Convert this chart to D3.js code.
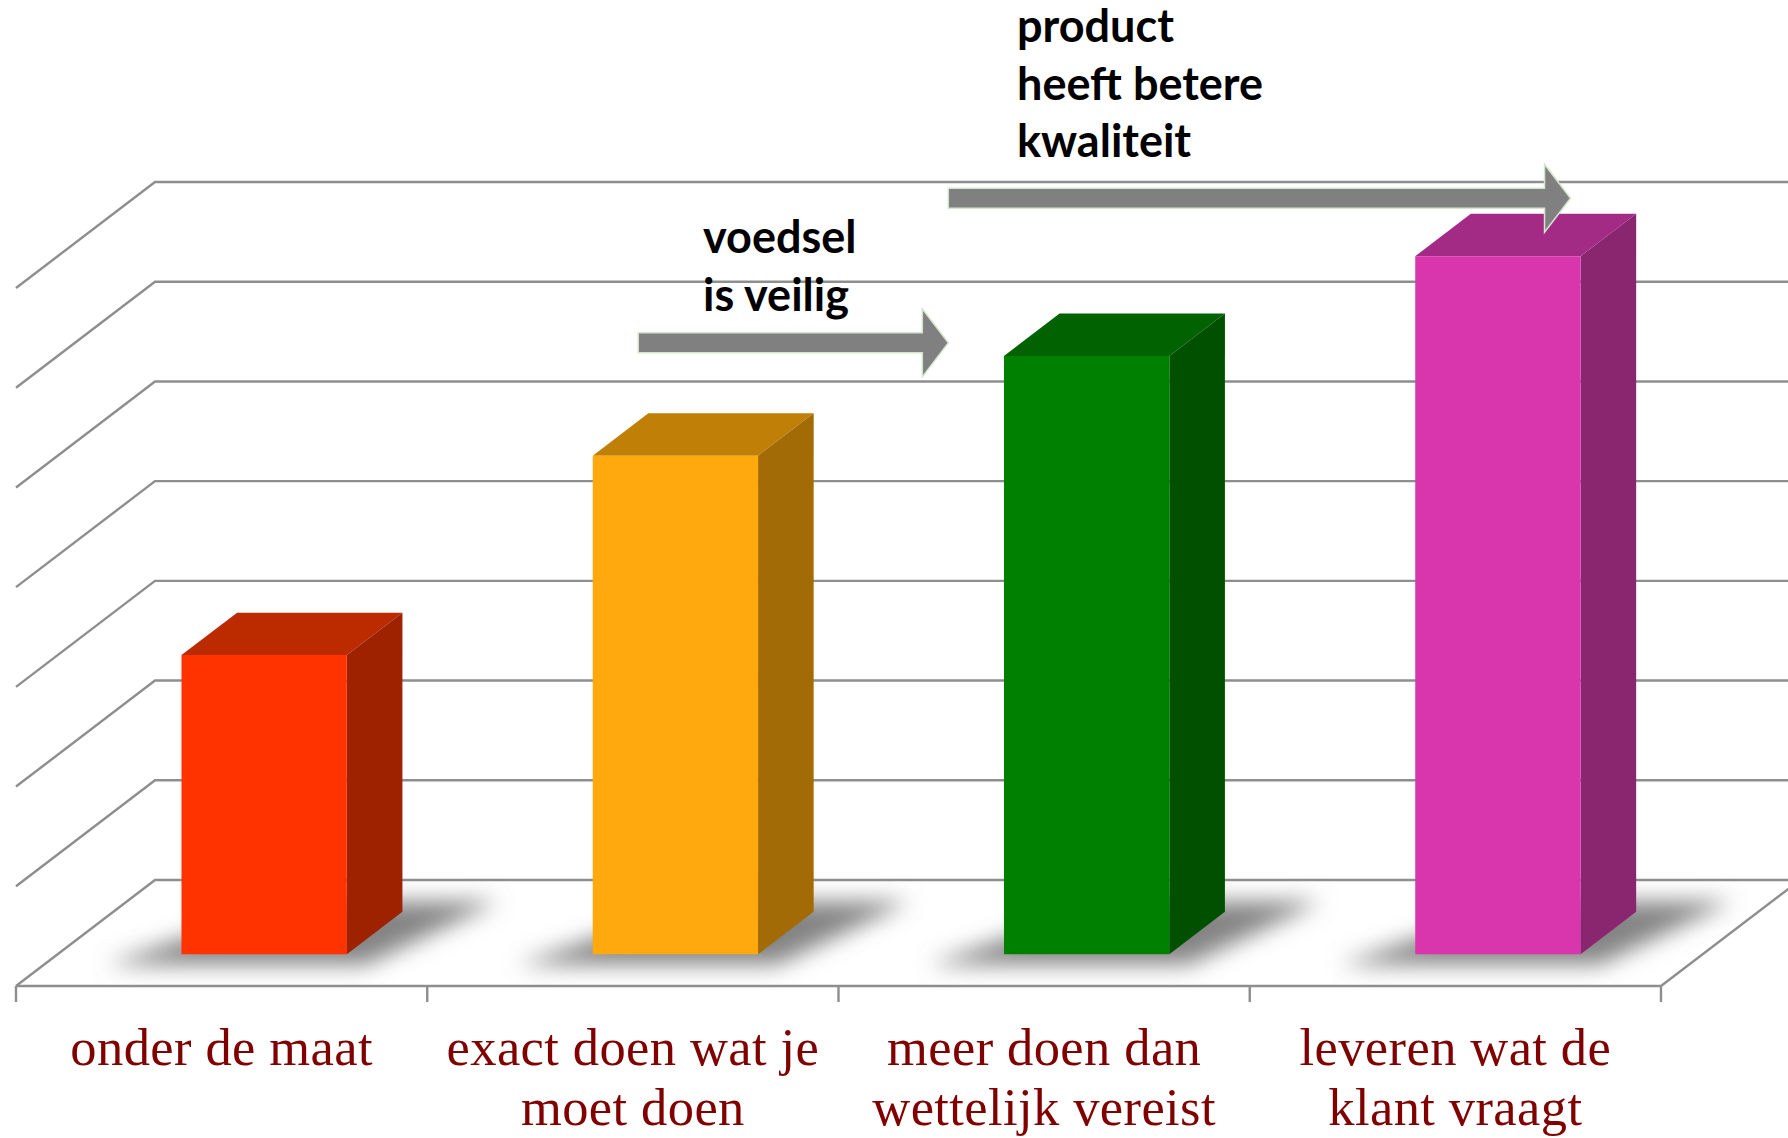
<!DOCTYPE html>
<html>
<head>
<meta charset="utf-8">
<script src="https://cdn.jsdelivr.net/npm/d3@7"></script>
<style>
  body { margin: 0; background: #fff; }
  svg { display: block; }
</style>
</head>
<body>
<div id="chart"></div>
<script>
//data
var categories = ["onder de maat", "exact doen wat je moet doen", "meer doen dan wettelijk vereist", "leveren wat de klant vraagt"];
var labelLines = [["onder de maat"], ["exact doen wat je", "moet doen"], ["meer doen dan", "wettelijk vereist"], ["leveren wat de", "klant vraagt"]];
var values = [3, 5, 6, 7];
var levels = [0, 1, 2, 3, 4, 5, 6, 7];
var frontColors = ["#ff3300", "#ffa90e", "#008000", "#d936ae"];
var sideColors = ["#9e2200", "#a36b05", "#005000", "#8a2570"];
var topColors = ["#bc2a00", "#c07f06", "#006200", "#a32a85"];

//arrows, in category widths and value levels
var arrowFrom = [1.513, 2.267];
var arrowTo = [2.267, 3.78];
var arrowLevel = [6.45, 7.9];
var noteLines = [["voedsel", "is veilig"], ["product", "heeft betere", "kwaliteit"]];

//set dimensions
var width = 1788,
    height = 1138,
    depthX = 139,
    depthY = 106,
    barDepth = 0.4,
    barFront = 0.3,
    barInset = 0.301,
    barWidth = 0.402;

var x = d3.scaleBand().domain(categories).range([16, 1661]);
var xPos = d3.scaleLinear().domain([0, 4]).range([16, 1661]);
var y = d3.scaleLinear().domain([0, 7]).range([986, 288]);

//oblique projection: z=0 is the front of the floor, z=1 the back wall
function project(px, v, z) {
  return [px + z * depthX, y(v) - z * depthY];
}

var svg = d3.select("#chart")
  .append("svg")
  .attr("width", width)
  .attr("height", height);

var defs = svg.append("defs");
defs.append("filter")
  .attr("id", "blur")
  .attr("x", "-30%").attr("y", "-60%")
  .attr("width", "160%").attr("height", "220%")
  .append("feGaussianBlur")
  .attr("stdDeviation", 11);

var line = d3.line();
var grid = svg.append("g")
  .attr("fill", "none")
  .attr("stroke", "#8e8e8e")
  .attr("stroke-width", 2.4);

//back wall and side wall
grid.selectAll(".wall")
  .data(levels)
  .enter()
  .append("path")
  .attr("class", "wall")
  .attr("d", function(d) {
    return line([project(xPos(0), d, 0), project(xPos(0), d, 1), project(xPos(4), d, 1)]);
  });

//floor front edge and right edge
grid.append("path")
  .attr("d", line([project(xPos(0), 0, 0), project(xPos(4), 0, 0), project(xPos(4), 0, 1)]));

//ticks
grid.selectAll(".tick")
  .data(d3.range(5))
  .enter()
  .append("line")
  .attr("class", "tick")
  .attr("x1", function(d) { return xPos(d); })
  .attr("x2", function(d) { return xPos(d); })
  .attr("y1", y(0))
  .attr("y2", y(0) + 16);

//bars
var bars = svg.selectAll(".bar")
  .data(categories)
  .enter()
  .append("g")
  .attr("class", "bar");

function corner(i, along, v, z) {
  return project(x(categories[i]) + (barInset + along) * x.bandwidth(), v, z);
}

bars.append("path")
  .attr("fill", "#777")
  .attr("fill-opacity", 0.9)
  .attr("filter", "url(#blur)")
  .attr("d", function(d, i) {
    return line([
      corner(i, -0.15, 0, barFront - 0.1),
      corner(i, barWidth + 0.08, 0, barFront - 0.1),
      corner(i, barWidth + 0.2, 0, barFront + barDepth + 0.1),
      corner(i, 0.1, 0, barFront + barDepth + 0.1)
    ]) + "Z";
  });

bars.append("path")
  .attr("fill", function(d, i) { return topColors[i]; })
  .attr("d", function(d, i) {
    var v = values[i];
    return line([
      corner(i, 0, v, barFront),
      corner(i, barWidth, v, barFront),
      corner(i, barWidth, v, barFront + barDepth),
      corner(i, 0, v, barFront + barDepth)
    ]) + "Z";
  });

bars.append("path")
  .attr("fill", function(d, i) { return sideColors[i]; })
  .attr("d", function(d, i) {
    var v = values[i];
    return line([
      corner(i, barWidth, 0, barFront),
      corner(i, barWidth, v, barFront),
      corner(i, barWidth, v, barFront + barDepth),
      corner(i, barWidth, 0, barFront + barDepth)
    ]) + "Z";
  });

bars.append("path")
  .attr("fill", function(d, i) { return frontColors[i]; })
  .attr("d", function(d, i) {
    var v = values[i];
    return line([
      corner(i, 0, 0, barFront),
      corner(i, barWidth, 0, barFront),
      corner(i, barWidth, v, barFront),
      corner(i, 0, v, barFront)
    ]) + "Z";
  });

//category labels
var labels = svg.selectAll(".label")
  .data(labelLines)
  .enter()
  .append("text")
  .attr("class", "label")
  .attr("text-anchor", "middle")
  .attr("font-family", "'Liberation Serif', serif")
  .attr("font-size", 52.5)
  .attr("letter-spacing", 0.4)
  .attr("fill", "#800000");

labels.selectAll("tspan")
  .data(function(d, i) { return d.map(function(t) { return { t: t, i: i }; }); })
  .enter()
  .append("tspan")
  .attr("x", function(d) { return x(categories[d.i]) + x.bandwidth() / 2; })
  .attr("y", function(d, j) { return 1065 + j * 59.5; })
  .text(function(d) { return d.t; });

//arrows
var arrow = function(i) {
  var x0 = xPos(arrowFrom[i]),
      x1 = xPos(arrowTo[i]),
      yc = y(arrowLevel[i]),
      p = d3.path();
  p.moveTo(x0, yc - 10);
  p.lineTo(x1 - 26, yc - 10);
  p.lineTo(x1 - 26, yc - 34);
  p.lineTo(x1, yc);
  p.lineTo(x1 - 26, yc + 34);
  p.lineTo(x1 - 26, yc + 10);
  p.lineTo(x0, yc + 10);
  p.closePath();
  return p.toString();
};

svg.selectAll(".arrow")
  .data(arrowFrom)
  .enter()
  .append("path")
  .attr("class", "arrow")
  .attr("d", function(d, i) { return arrow(i); })
  .attr("fill", "#808080")
  .attr("stroke", "#d5e4cc")
  .attr("stroke-width", 1.5);

//notes above the arrows
var noteX = [703, 1017],
    noteY = [253, 42];

var notes = svg.selectAll(".note")
  .data(noteLines)
  .enter()
  .append("text")
  .attr("class", "note")
  .attr("font-family", "Lato, sans-serif")
  .attr("font-weight", 700)
  .attr("font-size", 45)
  .attr("fill", "#000");

notes.selectAll("tspan")
  .data(function(d, i) { return d.map(function(t) { return { t: t, i: i }; }); })
  .enter()
  .append("tspan")
  .attr("x", function(d) { return noteX[d.i]; })
  .attr("y", function(d, j) { return noteY[d.i] + j * 57.5; })
  .text(function(d) { return d.t; });
</script>
</body>
</html>
